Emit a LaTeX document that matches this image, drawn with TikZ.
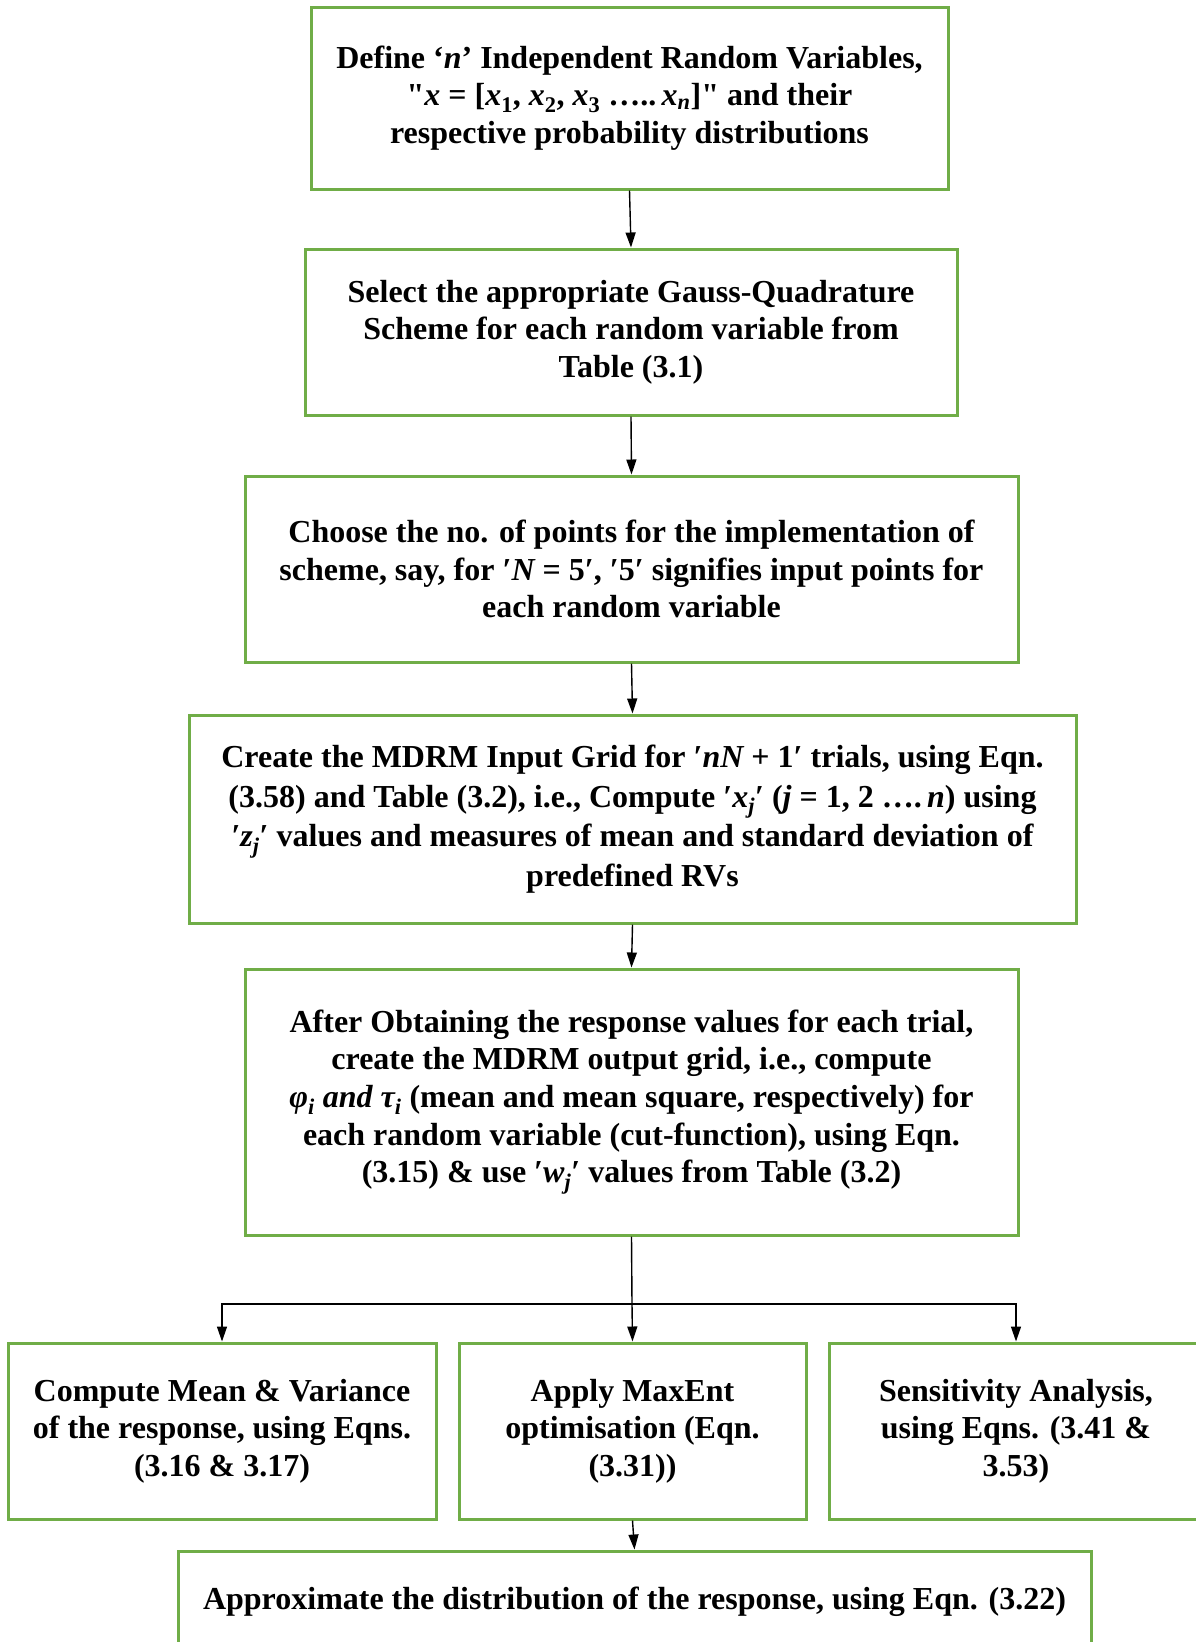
\documentclass[tikz,border=0pt]{standalone}
\usepackage{fontspec}
\setmainfont{Liberation Serif}
\usepackage{tikz}
\usetikzlibrary{arrows.meta}

\definecolor{boxgreen}{RGB}{112,173,71}
% variables are set in bold italic, as in the flow chart
\newcommand{\mv}[1]{{\itshape #1}}
\newcommand{\sub}[1]{\textsubscript{#1}}

\begin{document}
\begin{tikzpicture}[x=1pt,y=-1pt,
    greenbox/.style={draw=boxgreen, line width=3pt, fill=white, inner sep=0pt, align=center,
        font=\fontsize{32}{37.7}\selectfont\bfseries},
    arr/.style={-{Triangle[length=15pt,width=10pt]}, line width=1.4pt}]
    \clip (0,0) rectangle (1196,1642);
    \fill[white] (0,0) rectangle (1196,1642);

    \node[greenbox, minimum width=637pt, minimum height=182pt] (define) at (629.5,98)
        {Define `\mv{n}' Independent Random Variables,\\
         \textquotedbl\mv{x} = [\mv{x}\sub{1}, \mv{x}\sub{2}, \mv{x}\sub{3} \ldots..\,\mv{x}\sub{\mv{n}}]\textquotedbl{} and their\\
         respective probability distributions};
    \node[greenbox, minimum width=652pt, minimum height=166pt] (select) at (631,332)
        {Select the appropriate Gauss-Quadrature\\
         Scheme for each random variable from\\
         Table (3.1)};
    \node[greenbox, minimum width=773pt, minimum height=186pt] (choose) at (631.5,569)
        {Choose the no. of points for the implementation of\\
         scheme, say, for ′\mv{N} = 5′, ′5′ signifies input points for\\
         each random variable};
    \node[greenbox, minimum width=887pt, minimum height=208pt] (inputgrid) at (632.5,819)
        {Create the MDRM Input Grid for ′\mv{nN} + 1′ trials, using Eqn.\\[2pt]
         (3.58) and Table (3.2), i.e., Compute ′\mv{x}\sub{\mv{j}}′ (\mv{j} = 1, 2 \ldots.\,\mv{n}) using\\[2pt]
         ′\mv{z}\sub{\mv{j}}′ values and measures of mean and standard deviation of\\[2pt]
         predefined RVs};
    \node[greenbox, minimum width=773pt, minimum height=266pt] (outputgrid) at (631.5,1102)
        {After Obtaining the response values for each trial,\\
         create the MDRM output grid, i.e., compute\\
         \mv{φ}\sub{\mv{i}} \mv{and} \mv{τ}\sub{\mv{i}} (mean and mean square, respectively) for\\
         each random variable (cut-function), using Eqn.\\
         (3.15) \& use ′\mv{w}\sub{\mv{j}}′ values from Table (3.2)};

    % three results side by side
    \node[greenbox, minimum width=428pt, minimum height=176pt] (moments) at (222,1431)
        {Compute Mean \& Variance\\
         of the response, using Eqns.\\
         (3.16 \& 3.17)};
    \node[greenbox, minimum width=347pt, minimum height=176pt] (maxent) at (632.5,1431)
        {Apply MaxEnt\\
         optimisation (Eqn.\\
         (3.31))};
    \node[greenbox, minimum width=374pt, minimum height=176pt] (sensitivity) at (1016,1431)
        {Sensitivity Analysis,\\
         using Eqns. (3.41 \&\\
         3.53)};
    \node[greenbox, minimum width=913pt, minimum height=102pt] (approx) at (634.5,1602)
        {Approximate the distribution of the response, using Eqn. (3.22)};

    \coordinate (split) at (632,1304);

    \draw[arr] (define.south) -- (select.north);
    \draw[arr] (select.south) -- (choose.north);
    \draw[arr] (choose.south) -- (inputgrid.north);
    \draw[arr] (inputgrid.south) -- (outputgrid.north);
    \draw[line width=1.4pt] (outputgrid.south) -- (split);
    \draw[arr] (split) -- (maxent.north);
    \draw[arr] (split) -| (moments.north);
    \draw[arr] (split) -| (sensitivity.north);
    \draw[arr] (maxent.south) -- (approx.north);
\end{tikzpicture}
\end{document}
